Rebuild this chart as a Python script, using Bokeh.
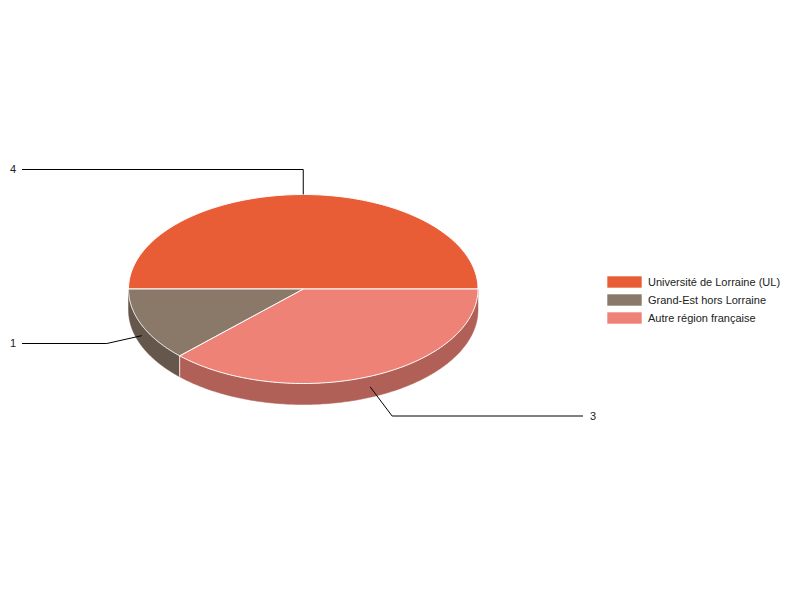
import numpy as np
from bokeh.plotting import figure
from bokeh.models import Range1d
from bokeh.core.properties import value
from bokeh.embed import file_html
from bokeh.resources import INLINE

categories = ["Université de Lorraine (UL)", "Autre région française", "Grand-Est hors Lorraine"]
values = [4, 3, 1]
top_colors = ["#E95D36", "#EF8276", "#8A7869"]
side_colors = ["#A8431F", "#B06057", "#65574B"]
legend_order = [0, 2, 1]

CX, CY, RX, RY, DEPTH = 302.75, 288.5, 174.75, 94.5, 21
W, H = 784, 584

p = figure(width=W, height=H, output_backend="svg", toolbar_location=None,
           x_range=Range1d(0, W), y_range=Range1d(H, 0),
           min_border=0, outline_line_color=None, background_fill_color="white")
p.axis.visible = False
p.grid.visible = False

fractions = np.array(values) / sum(values)
starts = np.pi + 2 * np.pi * np.concatenate([[0], np.cumsum(fractions)[:-1]])
ends = starts + 2 * np.pi * fractions

def arc(a, b, dy=0.0, n=160):
    t = np.linspace(a, b, n)
    return CX + RX * np.cos(t), CY + dy + RY * np.sin(t)

# visible wall: only the front half of the disc (angles in 2pi..3pi)
for a, b, c in sorted(zip(starts, ends, side_colors), key=lambda r: -r[0]):
    lo, hi = max(a, 2 * np.pi), min(b, 3 * np.pi)
    if hi <= lo:
        continue
    x1, y1 = arc(lo, hi)
    x2, y2 = arc(lo, hi, DEPTH)
    p.patch(list(x1) + list(x2[::-1]), list(y1) + list(y2[::-1]),
            fill_color=c, line_color=c, line_width=0.5)
    if b < 3 * np.pi:
        p.line([x1[-1], x2[-1]], [y1[-1], y2[-1]], line_color="#F4E6E2", line_width=1)

# top faces
for a, b, c in zip(starts, ends, top_colors):
    x, y = arc(a, b)
    p.patch([CX] + list(x), [CY] + list(y), fill_color=c, line_color="white", line_width=1)

# leader lines and value labels
for a, b, v in zip(starts, ends, values):
    m = (a + b) / 2
    ax, ay = CX + RX * np.cos(m), CY + RY * np.sin(m)
    front = np.sin(m) > 0
    if front:
        ay += DEPTH / 2
    right = np.cos(m) > 0.01
    if not front:                       # top slice: straight up, then out
        ex, ey = ax, ay - 25
    elif right:
        ex, ey = ax + 22, ay + 29.2
    else:
        ex, ey = ax - 35, ay + 7.84
    tx = 582.5 if right else 21.5
    p.line([ax, ex, tx], [ay, ey, ey], line_color="black", line_width=1)
    p.text([tx + 7 if right else tx - 6], [round(ey) - 0.5], text=[str(v)],
           text_font=value("Liberation Sans"), text_font_size="11px",
           text_color="#222222", text_baseline="middle",
           text_align="left" if right else "right")

# legend
LEG_Y = [281.5, 299.5, 317.5]
for i, yy in zip(legend_order, LEG_Y):
    p.quad(left=[606.5], right=[641.5], top=[yy - 6], bottom=[yy + 6],
           fill_color=top_colors[i], line_color="white", line_width=1, line_alpha=0.6)
    p.text([647.5], [yy - 0.5], text=[categories[i]],
           text_font=value("Liberation Sans"), text_font_size="11px",
           text_color="#222222", text_baseline="middle", text_align="left")

open("out.html", "w").write(file_html(p, INLINE))
